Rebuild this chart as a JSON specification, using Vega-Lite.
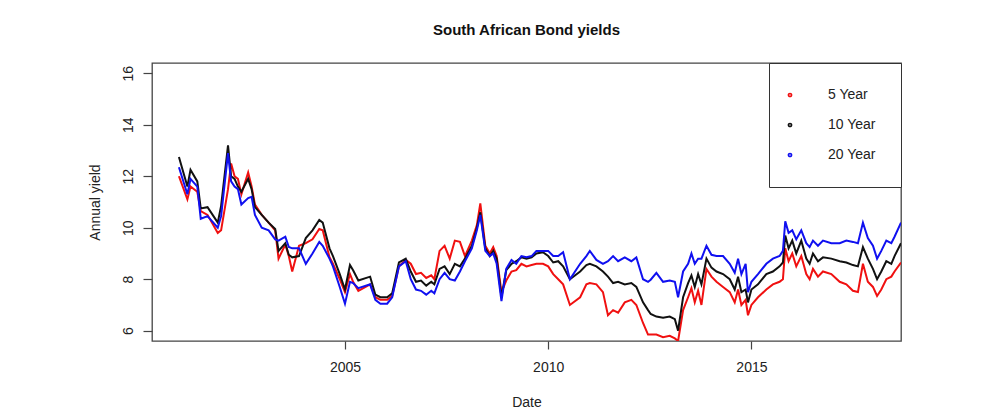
{
  "$schema": "https://vega.github.io/schema/vega-lite/v6.json",
  "width": 749,
  "height": 278,
  "autosize": {"type": "none"},
  "padding": {"left": 152, "top": 63, "right": 83, "bottom": 74},
  "background": "white",
  "title": {
    "text": "South African Bond yields",
    "fontSize": 15,
    "fontWeight": "bold",
    "font": "Liberation Sans",
    "color": "#111111",
    "anchor": "middle",
    "baseline": "alphabetic",
    "offset": 13
  },
  "data": {
    "values": [
      {"date": "2000-12-01", "5 Year": 12.0, "10 Year": 12.75, "20 Year": 12.35},
      {"date": "2001-02-15", "5 Year": 11.1, "10 Year": 11.6, "20 Year": 11.3},
      {"date": "2001-03-15", "5 Year": 11.6, "10 Year": 12.25, "20 Year": 11.9},
      {"date": "2001-05-15", "5 Year": 11.4, "10 Year": 11.8, "20 Year": 11.6},
      {"date": "2001-06-15", "5 Year": 10.65, "10 Year": 10.75, "20 Year": 10.35},
      {"date": "2001-08-15", "5 Year": 10.5, "10 Year": 10.8, "20 Year": 10.45},
      {"date": "2001-11-15", "5 Year": 9.8, "10 Year": 10.2, "20 Year": 10.0},
      {"date": "2001-12-15", "5 Year": 9.9, "10 Year": 10.85, "20 Year": 10.45},
      {"date": "2002-02-15", "5 Year": 11.5, "10 Year": 13.2, "20 Year": 12.9},
      {"date": "2002-03-15", "5 Year": 12.5, "10 Year": 12.0, "20 Year": 11.8},
      {"date": "2002-04-15", "5 Year": 12.0, "10 Year": 11.9, "20 Year": 11.6},
      {"date": "2002-05-15", "5 Year": 11.9, "10 Year": 11.6, "20 Year": 11.5},
      {"date": "2002-06-15", "5 Year": 11.3, "10 Year": 11.4, "20 Year": 10.9},
      {"date": "2002-08-15", "5 Year": 12.15, "10 Year": 11.9, "20 Year": 11.15},
      {"date": "2002-09-15", "5 Year": 11.6, "10 Year": 11.5, "20 Year": 11.2},
      {"date": "2002-10-15", "5 Year": 10.9, "10 Year": 10.8, "20 Year": 10.5},
      {"date": "2002-12-15", "5 Year": 10.5, "10 Year": 10.5, "20 Year": 10.0},
      {"date": "2003-02-15", "5 Year": 10.2, "10 Year": 10.2, "20 Year": 9.9},
      {"date": "2003-04-15", "5 Year": 9.9, "10 Year": 9.95, "20 Year": 9.55},
      {"date": "2003-05-15", "5 Year": 8.8, "10 Year": 9.1, "20 Year": 9.5},
      {"date": "2003-07-15", "5 Year": 9.35, "10 Year": 9.4, "20 Year": 9.65},
      {"date": "2003-08-15", "5 Year": 8.9, "10 Year": 8.95, "20 Year": 9.25},
      {"date": "2003-09-15", "5 Year": 8.3, "10 Year": 8.85, "20 Year": 9.2},
      {"date": "2003-11-15", "5 Year": 9.3, "10 Year": 8.9, "20 Year": 9.2},
      {"date": "2004-01-15", "5 Year": 9.4, "10 Year": 9.6, "20 Year": 8.6},
      {"date": "2004-03-15", "5 Year": 9.55, "10 Year": 9.9, "20 Year": 9.0},
      {"date": "2004-05-15", "5 Year": 9.95, "10 Year": 10.3, "20 Year": 9.45},
      {"date": "2004-06-15", "5 Year": 9.9, "10 Year": 10.2, "20 Year": 9.3},
      {"date": "2004-08-15", "5 Year": 8.85, "10 Year": 9.2, "20 Year": 8.8},
      {"date": "2004-09-15", "5 Year": 8.6, "10 Year": 8.9, "20 Year": 8.5},
      {"date": "2004-11-15", "5 Year": 8.0, "10 Year": 8.2, "20 Year": 7.7},
      {"date": "2005-01-01", "5 Year": 7.5, "10 Year": 7.6, "20 Year": 7.05},
      {"date": "2005-02-15", "5 Year": 8.2, "10 Year": 8.55, "20 Year": 7.9},
      {"date": "2005-03-15", "5 Year": 7.9, "10 Year": 8.35, "20 Year": 7.85},
      {"date": "2005-05-01", "5 Year": 7.55, "10 Year": 7.95, "20 Year": 7.65},
      {"date": "2005-08-15", "5 Year": 7.8, "10 Year": 8.1, "20 Year": 7.8},
      {"date": "2005-10-01", "5 Year": 7.3, "10 Year": 7.4, "20 Year": 7.2},
      {"date": "2005-11-15", "5 Year": 7.2, "10 Year": 7.3, "20 Year": 7.05},
      {"date": "2006-01-15", "5 Year": 7.2, "10 Year": 7.3, "20 Year": 7.05},
      {"date": "2006-03-01", "5 Year": 7.35, "10 Year": 7.45, "20 Year": 7.3},
      {"date": "2006-05-01", "5 Year": 8.5, "10 Year": 8.65, "20 Year": 8.5},
      {"date": "2006-07-01", "5 Year": 8.75, "10 Year": 8.8, "20 Year": 8.7},
      {"date": "2006-08-15", "5 Year": 8.6, "10 Year": 8.3, "20 Year": 8.0},
      {"date": "2006-10-01", "5 Year": 8.2, "10 Year": 7.9, "20 Year": 7.6},
      {"date": "2006-11-15", "5 Year": 8.25, "10 Year": 7.95, "20 Year": 7.55},
      {"date": "2007-01-01", "5 Year": 8.05, "10 Year": 7.75, "20 Year": 7.4},
      {"date": "2007-02-15", "5 Year": 8.15, "10 Year": 7.9, "20 Year": 7.55},
      {"date": "2007-03-15", "5 Year": 8.0, "10 Year": 7.8, "20 Year": 7.45},
      {"date": "2007-05-01", "5 Year": 9.1, "10 Year": 8.4, "20 Year": 8.0},
      {"date": "2007-06-15", "5 Year": 9.3, "10 Year": 8.5, "20 Year": 8.25},
      {"date": "2007-07-31", "5 Year": 8.8, "10 Year": 8.2, "20 Year": 8.0},
      {"date": "2007-09-15", "5 Year": 9.5, "10 Year": 8.6, "20 Year": 7.95},
      {"date": "2007-10-31", "5 Year": 9.45, "10 Year": 8.5, "20 Year": 8.3},
      {"date": "2007-12-15", "5 Year": 8.9, "10 Year": 8.8, "20 Year": 8.7},
      {"date": "2008-02-15", "5 Year": 9.5, "10 Year": 9.3, "20 Year": 9.2},
      {"date": "2008-03-31", "5 Year": 10.1, "10 Year": 10.0, "20 Year": 9.9},
      {"date": "2008-05-01", "5 Year": 10.95, "10 Year": 10.6, "20 Year": 10.5},
      {"date": "2008-06-15", "5 Year": 9.3, "10 Year": 9.2, "20 Year": 9.1},
      {"date": "2008-07-25", "5 Year": 9.0, "10 Year": 8.9, "20 Year": 8.9},
      {"date": "2008-08-25", "5 Year": 9.25, "10 Year": 9.1, "20 Year": 9.0},
      {"date": "2008-09-25", "5 Year": 8.9, "10 Year": 8.8, "20 Year": 8.6},
      {"date": "2008-11-07", "5 Year": 7.5, "10 Year": 7.3, "20 Year": 7.15},
      {"date": "2008-12-20", "5 Year": 7.95, "10 Year": 8.35, "20 Year": 8.4},
      {"date": "2009-02-05", "5 Year": 8.3, "10 Year": 8.6, "20 Year": 8.75},
      {"date": "2009-03-20", "5 Year": 8.35, "10 Year": 8.7, "20 Year": 8.6},
      {"date": "2009-05-05", "5 Year": 8.6, "10 Year": 8.85, "20 Year": 8.9},
      {"date": "2009-06-20", "5 Year": 8.5, "10 Year": 8.8, "20 Year": 8.85},
      {"date": "2009-08-05", "5 Year": 8.55, "10 Year": 8.85, "20 Year": 8.9},
      {"date": "2009-09-17", "5 Year": 8.6, "10 Year": 9.0, "20 Year": 9.1},
      {"date": "2009-11-15", "5 Year": 8.6, "10 Year": 9.05, "20 Year": 9.1},
      {"date": "2010-01-01", "5 Year": 8.5, "10 Year": 8.9, "20 Year": 9.1},
      {"date": "2010-02-15", "5 Year": 8.2, "10 Year": 8.65, "20 Year": 8.9},
      {"date": "2010-04-01", "5 Year": 8.0, "10 Year": 8.7, "20 Year": 8.9},
      {"date": "2010-05-15", "5 Year": 7.8, "10 Year": 8.5, "20 Year": 9.05},
      {"date": "2010-07-15", "5 Year": 7.0, "10 Year": 8.0, "20 Year": 8.0},
      {"date": "2010-10-15", "5 Year": 7.3, "10 Year": 8.3, "20 Year": 8.6},
      {"date": "2010-12-10", "5 Year": 7.8, "10 Year": 8.55, "20 Year": 8.9},
      {"date": "2011-01-10", "5 Year": 7.85, "10 Year": 8.6, "20 Year": 9.1},
      {"date": "2011-03-10", "5 Year": 7.8, "10 Year": 8.5, "20 Year": 8.75},
      {"date": "2011-05-08", "5 Year": 7.5, "10 Year": 8.3, "20 Year": 8.6},
      {"date": "2011-06-22", "5 Year": 6.6, "10 Year": 8.1, "20 Year": 8.7},
      {"date": "2011-08-07", "5 Year": 6.8, "10 Year": 7.85, "20 Year": 8.9},
      {"date": "2011-09-21", "5 Year": 6.7, "10 Year": 7.9, "20 Year": 8.7},
      {"date": "2011-11-20", "5 Year": 7.1, "10 Year": 7.8, "20 Year": 8.85},
      {"date": "2012-01-18", "5 Year": 7.2, "10 Year": 7.85, "20 Year": 8.7},
      {"date": "2012-03-03", "5 Year": 7.0, "10 Year": 7.7, "20 Year": 8.85},
      {"date": "2012-05-02", "5 Year": 6.3, "10 Year": 7.1, "20 Year": 8.0},
      {"date": "2012-06-16", "5 Year": 5.85, "10 Year": 6.8, "20 Year": 7.9},
      {"date": "2012-07-10", "5 Year": 5.85, "10 Year": 6.65, "20 Year": 7.98},
      {"date": "2012-08-30", "5 Year": 5.85, "10 Year": 6.55, "20 Year": 8.25},
      {"date": "2012-10-29", "5 Year": 5.75, "10 Year": 6.5, "20 Year": 7.9},
      {"date": "2012-12-28", "5 Year": 5.8, "10 Year": 6.55, "20 Year": 7.95},
      {"date": "2013-02-12", "5 Year": 5.7, "10 Year": 6.45, "20 Year": 7.9},
      {"date": "2013-03-13", "5 Year": 5.6, "10 Year": 6.0, "20 Year": 7.3},
      {"date": "2013-04-27", "5 Year": 6.8, "10 Year": 7.3, "20 Year": 8.3},
      {"date": "2013-06-11", "5 Year": 7.3, "10 Year": 7.85, "20 Year": 8.6},
      {"date": "2013-07-11", "5 Year": 7.65, "10 Year": 8.15, "20 Year": 9.0},
      {"date": "2013-08-10", "5 Year": 7.1, "10 Year": 7.7, "20 Year": 8.6},
      {"date": "2013-09-09", "5 Year": 7.55, "10 Year": 8.2, "20 Year": 8.8},
      {"date": "2013-10-09", "5 Year": 7.0, "10 Year": 7.8, "20 Year": 8.8},
      {"date": "2013-11-23", "5 Year": 8.4, "10 Year": 8.8, "20 Year": 9.3},
      {"date": "2014-01-07", "5 Year": 8.1, "10 Year": 8.45, "20 Year": 8.95},
      {"date": "2014-02-21", "5 Year": 7.9, "10 Year": 8.3, "20 Year": 8.9},
      {"date": "2014-04-21", "5 Year": 7.7, "10 Year": 8.2, "20 Year": 8.9},
      {"date": "2014-06-20", "5 Year": 7.5, "10 Year": 8.0, "20 Year": 8.6},
      {"date": "2014-08-04", "5 Year": 7.1, "10 Year": 7.6, "20 Year": 8.25},
      {"date": "2014-09-03", "5 Year": 7.6, "10 Year": 8.1, "20 Year": 8.8},
      {"date": "2014-10-03", "5 Year": 7.0, "10 Year": 7.5, "20 Year": 8.2},
      {"date": "2014-11-10", "5 Year": 7.2, "10 Year": 7.6, "20 Year": 8.6},
      {"date": "2014-12-01", "5 Year": 6.6, "10 Year": 7.1, "20 Year": 7.5},
      {"date": "2015-01-01", "5 Year": 7.0, "10 Year": 7.6, "20 Year": 7.9},
      {"date": "2015-03-01", "5 Year": 7.3, "10 Year": 7.8, "20 Year": 8.2},
      {"date": "2015-05-15", "5 Year": 7.6, "10 Year": 8.2, "20 Year": 8.6},
      {"date": "2015-07-13", "5 Year": 7.8, "10 Year": 8.3, "20 Year": 8.8},
      {"date": "2015-09-11", "5 Year": 7.9, "10 Year": 8.5, "20 Year": 8.9},
      {"date": "2015-10-11", "5 Year": 8.0, "10 Year": 8.65, "20 Year": 9.1},
      {"date": "2015-11-01", "5 Year": 9.2, "10 Year": 9.7, "20 Year": 10.25},
      {"date": "2015-12-01", "5 Year": 8.7, "10 Year": 9.2, "20 Year": 9.8},
      {"date": "2016-01-03", "5 Year": 9.0, "10 Year": 9.5, "20 Year": 9.9},
      {"date": "2016-02-08", "5 Year": 8.5, "10 Year": 9.0, "20 Year": 9.55},
      {"date": "2016-03-24", "5 Year": 8.9, "10 Year": 9.5, "20 Year": 9.9},
      {"date": "2016-05-08", "5 Year": 8.2, "10 Year": 8.8, "20 Year": 9.4},
      {"date": "2016-06-07", "5 Year": 8.0, "10 Year": 8.6, "20 Year": 9.25},
      {"date": "2016-07-07", "5 Year": 8.4, "10 Year": 9.0, "20 Year": 9.5},
      {"date": "2016-08-21", "5 Year": 8.1, "10 Year": 8.7, "20 Year": 9.3},
      {"date": "2016-10-05", "5 Year": 8.3, "10 Year": 8.85, "20 Year": 9.5},
      {"date": "2016-12-19", "5 Year": 8.2, "10 Year": 8.8, "20 Year": 9.4},
      {"date": "2017-03-04", "5 Year": 7.9, "10 Year": 8.7, "20 Year": 9.4},
      {"date": "2017-05-03", "5 Year": 7.8, "10 Year": 8.65, "20 Year": 9.5},
      {"date": "2017-07-01", "5 Year": 7.55, "10 Year": 8.55, "20 Year": 9.45},
      {"date": "2017-08-15", "5 Year": 7.5, "10 Year": 8.5, "20 Year": 9.4},
      {"date": "2017-09-29", "5 Year": 8.6, "10 Year": 9.25, "20 Year": 10.2},
      {"date": "2017-11-12", "5 Year": 7.9, "10 Year": 8.8, "20 Year": 9.6},
      {"date": "2017-12-28", "5 Year": 7.7, "10 Year": 8.4, "20 Year": 9.3},
      {"date": "2018-02-03", "5 Year": 7.35, "10 Year": 8.0, "20 Year": 8.8},
      {"date": "2018-03-13", "5 Year": 7.6, "10 Year": 8.3, "20 Year": 9.1},
      {"date": "2018-04-27", "5 Year": 8.0, "10 Year": 8.7, "20 Year": 9.5},
      {"date": "2018-06-11", "5 Year": 8.1, "10 Year": 8.6, "20 Year": 9.4},
      {"date": "2018-07-10", "5 Year": 8.3, "10 Year": 8.9, "20 Year": 9.65},
      {"date": "2018-09-06", "5 Year": 8.65, "10 Year": 9.4, "20 Year": 10.2}
    ]
  },
  "transform": [
    {"fold": ["5 Year", "10 Year", "20 Year"], "as": ["series", "yield"]}
  ],
  "mark": {"type": "line", "strokeWidth": 2, "clip": true},
  "encoding": {
    "x": {
      "field": "date",
      "type": "temporal",
      "scale": {
        "domain": [
          {"year": 2000, "month": 4, "date": 3},
          {"year": 2018, "month": 9, "date": 6}
        ]
      },
      "axis": {
        "values": [{"year": 2005}, {"year": 2010}, {"year": 2015}],
        "format": "%Y",
        "grid": false,
        "domain": false,
        "tickSize": 8,
        "tickColor": "#444444",
        "tickWidth": 1.2,
        "labelFontSize": 14,
        "labelColor": "#222222",
        "labelPadding": 11,
        "labelFlush": false,
        "title": "Date",
        "titleFontSize": 14,
        "titleFontWeight": "normal",
        "titleColor": "#222222",
        "titlePadding": 21
      }
    },
    "y": {
      "field": "yield",
      "type": "quantitative",
      "scale": {"domain": [5.6, 16.4], "nice": false, "zero": false},
      "axis": {
        "values": [6, 8, 10, 12, 14, 16],
        "grid": false,
        "domain": false,
        "tickSize": 9,
        "tickColor": "#444444",
        "tickWidth": 1.2,
        "labelAngle": -90,
        "labelAlign": "center",
        "labelBaseline": "middle",
        "labelFontSize": 14,
        "labelColor": "#222222",
        "labelPadding": 15,
        "title": "Annual yield",
        "titleFontSize": 14,
        "titleFontWeight": "normal",
        "titleColor": "#222222",
        "titlePadding": 19
      }
    },
    "color": {
      "field": "series",
      "type": "nominal",
      "scale": {
        "domain": ["5 Year", "10 Year", "20 Year"],
        "range": ["#f01010", "#111111", "#1010f0"]
      },
      "legend": {
        "title": null,
        "orient": "none",
        "legendX": 617,
        "legendY": 0,
        "padding": 25,
        "strokeColor": "#333333",
        "fillColor": "white",
        "symbolType": "circle",
        "symbolSize": 3,
        "symbolStrokeWidth": 3,
        "symbolOffset": -11,
        "labelFontSize": 14,
        "labelColor": "#222222",
        "labelOffset": 31,
        "rowPadding": 16
      }
    }
  },
  "config": {
    "font": "Liberation Sans",
    "view": {"stroke": "#444444", "strokeWidth": 1.3}
  }
}
